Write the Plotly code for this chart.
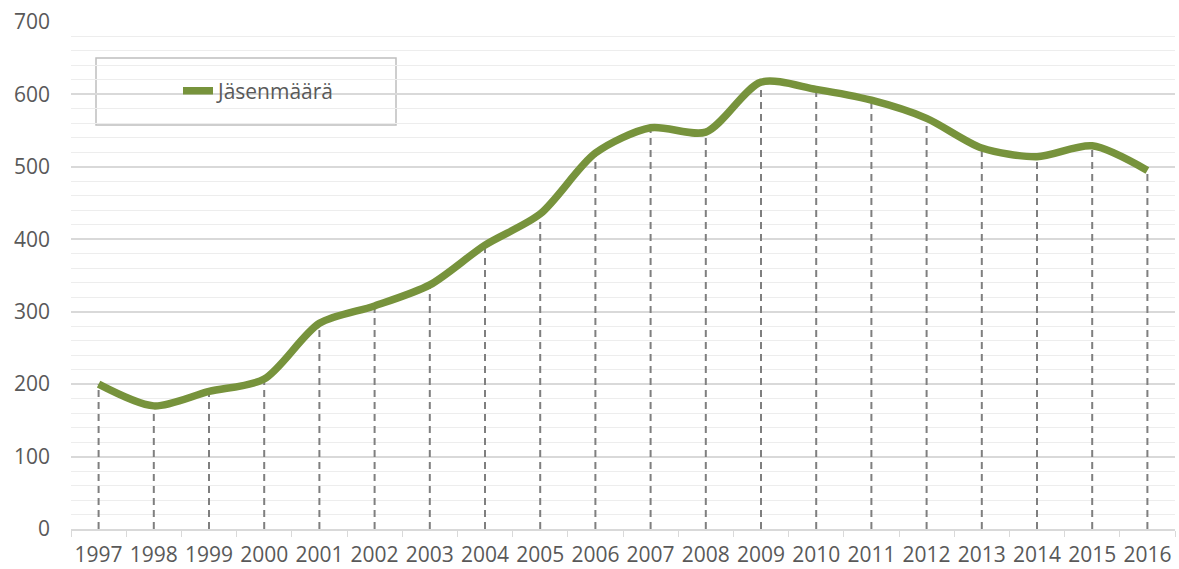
import plotly.graph_objects as go

years = [str(y) for y in range(1997, 2017)]
members = [200, 170, 190, 207, 284, 308, 337, 392, 435, 519,
           554, 548, 617, 607, 592, 567, 526, 514, 529, 495]
series_name = "Jäsenmäärä"

line_color = "#77933C"
text_color = "#595959"

drop_x, drop_y = [], []
for x, v in zip(years, members):
    drop_x += [x, x, None]
    drop_y += [0, v, None]

fig = go.Figure()
fig.add_trace(go.Scatter(
    x=drop_x, y=drop_y, mode="lines", showlegend=False, hoverinfo="skip",
    line=dict(color="#7F7F7F", width=2, dash="7px,5px"),
))
fig.add_trace(go.Scatter(
    x=years, y=members, mode="lines", name=series_name,
    line=dict(color=line_color, width=7.5, shape="spline", smoothing=0.8),
))

fig.update_layout(
    width=1179, height=569,
    margin=dict(l=71, r=4, t=22, b=40, autoexpand=False),
    paper_bgcolor="white", plot_bgcolor="white",
    font=dict(family="Open Sans, Arial, sans-serif", size=21, color=text_color),
    showlegend=True,
    legend=dict(x=(178 - 71) / 1104, y=(529 - 91) / 507, xanchor="left", yanchor="middle",
                bgcolor="rgba(0,0,0,0)", borderwidth=0,
                font=dict(size=21, color=text_color)),
    shapes=[dict(type="rect", xref="paper", yref="paper",
                 x0=(96 - 71) / 1104, x1=(396 - 71) / 1104,
                 y0=(529 - 125) / 507, y1=(529 - 58) / 507,
                 line=dict(color="#BFBFBF", width=1.5), fillcolor="white",
                 layer="below")],
)
fig.update_xaxes(
    type="category", tickson="boundaries", ticks="outside", ticklen=6,
    tickcolor="#D9D9D9", showgrid=False, showline=True, linecolor="#D9D9D9",
    linewidth=1.5, tickfont=dict(size=21, color=text_color), tickangle=0,
    automargin=False, range=[-0.5, 19.5], ticklabelstandoff=6,
)
fig.update_yaxes(
    range=[0, 700], dtick=100, showgrid=True, gridcolor="#D9D9D9", gridwidth=1.5,
    zeroline=False, showline=False, ticks="", tickfont=dict(size=21, color=text_color),
    ticklabelstandoff=20, automargin=False,
    minor=dict(dtick=20, showgrid=True, gridcolor="#EDEDED", gridwidth=1.2),
)

fig.write_html("out.html", config={"displayModeBar": False},
               post_script="document.body.style.margin='0';")
